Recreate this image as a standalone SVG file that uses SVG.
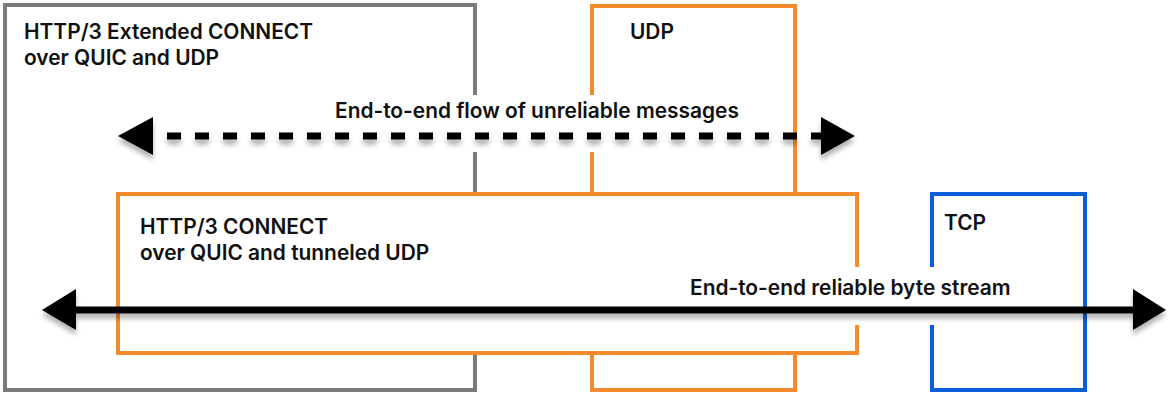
<svg xmlns="http://www.w3.org/2000/svg" width="1168" height="395" viewBox="0 0 1168 395">
  <style>
    .box { fill: #ffffff; stroke-width: 4; }
    .gray { stroke: #7b7b7b; }
    .orange { stroke: #f58b2c; }
    .blue { stroke: #0b5fd9; }
    .lbl { font-family: Inter, "Noto Sans", "Liberation Sans", sans-serif; font-weight: 600; font-size: 20.9px; fill: #111111; }
    .knock { fill: #ffffff; }
    .flow { stroke: #000000; stroke-width: 7; fill: none; }
    .dashed { stroke-dasharray: 14 14; }
    .head { fill: #000000; }
  </style>
  <defs>
    <filter id="shadow" x="-5%" y="-50%" width="110%" height="250%">
      <feDropShadow dx="0" dy="5" stdDeviation="2.5" flood-color="#000000" flood-opacity="0.3"/>
    </filter>
  </defs>

  <g id="h3-extended-connect">
    <rect class="box gray" x="5" y="5" width="470" height="385"/>
    <text class="lbl" x="24" y="39">HTTP/3 Extended CONNECT</text>
    <text class="lbl" x="24" y="65">over QUIC and UDP</text>
  </g>

  <g id="udp">
    <rect class="box orange" x="592" y="6" width="203" height="384"/>
    <text class="lbl" x="630" y="39">UDP</text>
  </g>

  <g id="h3-connect">
    <rect class="box orange" x="118" y="194" width="739" height="159"/>
    <text class="lbl" x="140" y="234">HTTP/3 CONNECT</text>
    <text class="lbl" x="140" y="260">over QUIC and tunneled UDP</text>
  </g>

  <g id="tcp">
    <rect class="box blue" x="932" y="194" width="153" height="196"/>
    <text class="lbl" x="944" y="230">TCP</text>
  </g>

  <g id="connectors">
    <!-- unreliable message flow -->
    <rect class="knock" x="335" y="95" width="405" height="57"/>
    <text class="lbl" x="335" y="118">End-to-end flow of unreliable messages</text>
    <g filter="url(#shadow)">
      <line class="flow dashed" x1="167" y1="136" x2="822" y2="136"/>
      <polygon class="head" points="118,136 153,117 153,155"/>
      <polygon class="head" points="855,136 821,117 821,155"/>
    </g>

    <!-- reliable byte stream -->
    <rect class="knock" x="690" y="267" width="325" height="58"/>
    <text class="lbl" x="690" y="295">End-to-end reliable byte stream</text>
    <g filter="url(#shadow)">
      <line class="flow" x1="70" y1="310" x2="1140" y2="310"/>
      <polygon class="head" points="42,310 76,289 76,330"/>
      <polygon class="head" points="1166,310 1133,289 1133,330"/>
    </g>
  </g>
</svg>
